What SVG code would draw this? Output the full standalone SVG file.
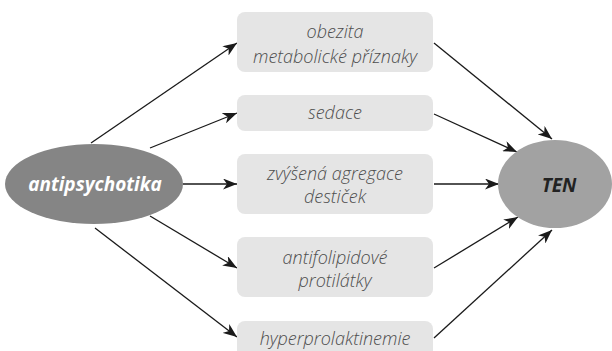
<svg xmlns="http://www.w3.org/2000/svg" width="612" height="351" viewBox="0 0 612 351">
<defs>
<marker id="ah" markerWidth="15" markerHeight="11" refX="14" refY="5.5" orient="auto" markerUnits="userSpaceOnUse">
<path d="M0,0 L14,5.5 L0,11 L4,5.5 z" fill="#1a1a1a"/>
</marker>
<style>
.box{fill:#e5e5e5;}
.lbl{font-family:"Open Sans","Liberation Sans",sans-serif;font-style:italic;font-weight:300;font-size:18px;fill:#4d4d4d;text-anchor:middle;}
.con{stroke:#1a1a1a;stroke-width:1.3;fill:none;marker-end:url(#ah);}
.big{font-family:"Open Sans","Liberation Sans",sans-serif;font-style:italic;font-weight:bold;font-size:19px;text-anchor:middle;}
</style>
</defs>
<rect width="612" height="351" fill="#ffffff"/>
<g id="connectors">
<line class="con" x1="91" y1="143" x2="237" y2="43"/>
<line class="con" x1="150" y1="148" x2="237" y2="113"/>
<line class="con" x1="183" y1="184" x2="237" y2="184"/>
<line class="con" x1="150" y1="216" x2="237" y2="268"/>
<line class="con" x1="95" y1="228" x2="237" y2="337"/>
<line class="con" x1="434" y1="43" x2="552" y2="139"/>
<line class="con" x1="434" y1="114" x2="517" y2="152"/>
<line class="con" x1="434" y1="184" x2="499" y2="184"/>
<line class="con" x1="434" y1="268" x2="518" y2="217"/>
<line class="con" x1="434" y1="338" x2="552" y2="230"/>
</g>
<g id="antipsychotika">
<ellipse cx="94" cy="184" rx="89" ry="40" fill="#858585"/>
<text class="big" x="95" y="191" fill="#ffffff">antipsychotika</text>
</g>
<g id="TEN">
<ellipse cx="555" cy="184" rx="57" ry="44" fill="#a2a2a2"/>
<text class="big" x="559" y="192" fill="#222222">TEN</text>
</g>
<g id="obezita">
<rect class="box" x="237" y="12" width="196" height="60" rx="8"/>
<text class="lbl" x="335" y="38">obezita</text>
<text class="lbl" x="335" y="63">metabolické příznaky</text>
</g>
<g id="sedace">
<rect class="box" x="237" y="95" width="196" height="36" rx="8"/>
<text class="lbl" x="335" y="119">sedace</text>
</g>
<g id="agregace">
<rect class="box" x="237" y="154" width="196" height="60" rx="8"/>
<text class="lbl" x="335" y="180">zvýšená agregace</text>
<text class="lbl" x="335" y="203">destiček</text>
</g>
<g id="antifosfolipidove">
<rect class="box" x="237" y="237" width="196" height="60" rx="8"/>
<text class="lbl" x="335" y="264">antifolipidové</text>
<text class="lbl" x="335" y="287">protilátky</text>
</g>
<g id="hyperprolaktinemie">
<rect class="box" x="237" y="321" width="196" height="38" rx="8"/>
<text class="lbl" x="335" y="345">hyperprolaktinemie</text>
</g>
</svg>
